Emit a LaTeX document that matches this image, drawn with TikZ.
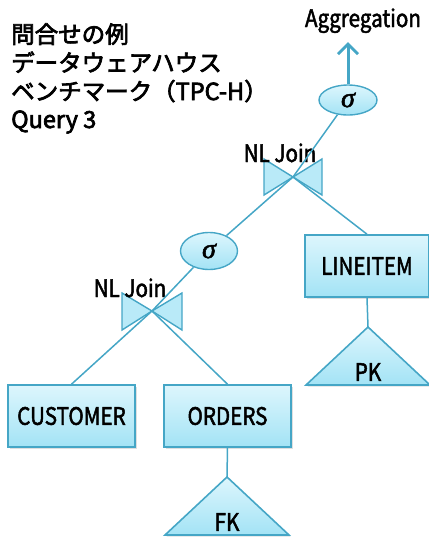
\documentclass[tikz,border=0pt]{standalone}
\usepackage{fontspec}
\setmainfont{Noto Sans CJK JP}
\newfontfamily\titlefont{Noto Sans CJK JP}[FakeBold=3]
\newfontfamily\lblfont{Noto Sans CJK JP}[FakeStretch=0.86, FakeBold=2]
\newfontfamily\sigfont{Liberation Serif}[FakeBold=2]
\usetikzlibrary{arrows.meta,shadows,shapes.geometric}
\definecolor{edge}{HTML}{45A6C6}
\definecolor{filltop}{HTML}{DDF6FD}
\definecolor{fillbot}{HTML}{A3E3F5}
\definecolor{tiefill}{HTML}{B9EAF8}
\begin{document}
\begin{tikzpicture}[x=1pt,y=-1pt,
  title/.style={anchor=base west, inner sep=0pt, font=\fontsize{23.5}{23.5}\selectfont\titlefont},
  lbl/.style={anchor=base, inner sep=0pt, font=\fontsize{24}{24}\selectfont\lblfont},
  table/.style={draw=edge, line width=1.6pt, top color=filltop, bottom color=fillbot,
    minimum width=127pt, minimum height=62pt, inner sep=0pt,
    font=\fontsize{24}{24}\selectfont\lblfont,
    drop shadow={opacity=0.25, shadow xshift=1.5pt, shadow yshift=-1.5pt}},
  select/.style={ellipse, draw=edge, line width=1.4pt, top color=filltop, bottom color=fillbot,
    inner sep=0pt, font=\fontsize{28}{28}\selectfont\sigfont\itshape},
  index/.style={draw=edge, line width=1.6pt, top color=filltop, bottom color=fillbot,
    drop shadow={opacity=0.25, shadow xshift=1.5pt, shadow yshift=-1.5pt}},
  tie/.style={draw=edge, line width=1.4pt, fill=tiefill},
  link/.style={draw=edge, line width=1.5pt},
  idxlabel/.style={inner sep=0pt, font=\fontsize{24}{24}\selectfont\lblfont}]
\useasboundingbox (0,0) rectangle (429,539);

% heading
\node[title] (t1) at (11,43) {問合せの例};
\node[title] (t2) at (11,71.5) {データウェアハウス};
\node[title] (t3) at (11,100) {ベンチマーク（TPC-H）};
\node[title] (t4) at (11,128) {Query 3};

% output of the plan
\node[lbl] (agg) at (363,27) {Aggregation};
\coordinate (aggtip) at (348,42);

% join points (bow ties)
\coordinate (j1) at (293,177);
\coordinate (j2) at (152,311);
\path[tie] (j1) -- ++(-29,-18) -- ++(0,36) -- cycle;
\path[tie] (j1) -- ++(29,-18) -- ++(0,36) -- cycle;
\path[tie] (j2) -- ++(-30,-18) -- ++(0,37) -- cycle;
\path[tie] (j2) -- ++(30,-18) -- ++(0,37) -- cycle;
\node[lbl] (nl1) at (280,162) {NL Join};
\node[lbl] (nl2) at (130,297) {NL Join};

% selections
\node[select, minimum width=58pt, minimum height=30pt] (s1) at (348,100) {σ};
\node[select, minimum width=57pt, minimum height=37pt] (s2) at (209,251) {σ};

% tables
\node[table] (cust) at (71.5,416) {CUSTOMER};
\node[table] (ord) at (227.5,416) {ORDERS};
\node[table, minimum width=124pt] (line) at (367,266) {LINEITEM};

% indexes
\coordinate (pkA) at (368,327);
\coordinate (pkL) at (306,385);
\coordinate (pkR) at (430,385);
\path[index] (pkA) -- (pkL) -- (pkR) -- cycle;
\node[idxlabel] (pk) at (368,372) {PK};
\coordinate (fkA) at (227,477);
\coordinate (fkL) at (165,535);
\coordinate (fkR) at (289,535);
\path[index] (fkA) -- (fkL) -- (fkR) -- cycle;
\node[idxlabel] (fk) at (227,522) {FK};

% plan edges
\draw[link, line width=3pt, -{Straight Barb[length=10pt,width=20pt,line width=3pt]}] (s1.north) -- (aggtip);
\draw[link] (s1) -- (j1);
\draw[link] (j1) -- (s2);
\draw[link] (j1) -- (line.north);
\draw[link] (s2) -- (j2);
\draw[link] (j2) -- (cust.north);
\draw[link] (j2) -- (ord.north);
\draw[link] (line.south) -- (pkA);
\draw[link] (ord.south) -- (fkA);
\end{tikzpicture}
\end{document}
